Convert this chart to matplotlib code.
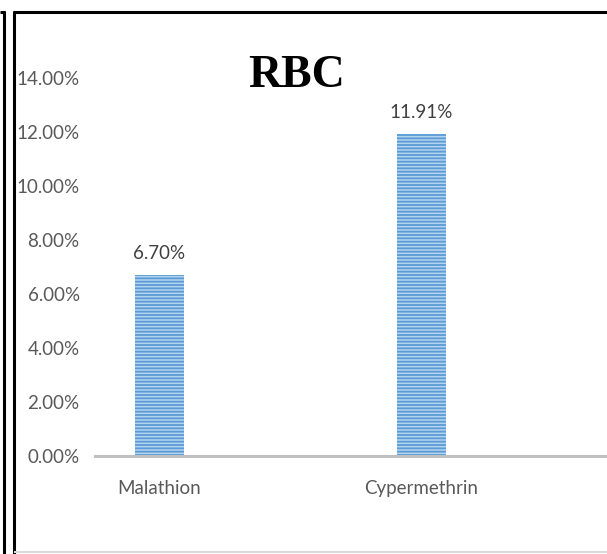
import matplotlib
matplotlib.use("Agg")
import matplotlib.pyplot as plt
from matplotlib.lines import Line2D
from matplotlib.ticker import FuncFormatter

categories = ["Malathion", "Cypermethrin"]
values = [0.0670, 0.1191]
value_labels = ["6.70%", "11.91%"]
title = "RBC"

W, H = 607, 554
fig = plt.figure(figsize=(W / 100, H / 100), dpi=100)
fig.patch.set_facecolor("white")

ax_left, ax_right = 95 / W, 607 / W
ax_bottom = (H - 456) / H
ax_top = (H - 78) / H
ax = fig.add_axes([ax_left, ax_bottom, ax_right - ax_left, ax_top - ax_bottom])

plt.rcParams["hatch.linewidth"] = 1.3
x = list(range(len(categories)))
bars = ax.bar(x, values, width=0.187, color="#B4D3EF", edgecolor="#5B9BD5",
              hatch="-----", linewidth=0)

ax.set_ylim(0, 0.14)
ax.set_xlim(-0.246, 1.708)
ax.set_yticks([i * 0.02 for i in range(8)])
ax.yaxis.set_major_formatter(FuncFormatter(lambda v, p: f"{v*100:.2f}%"))
ax.set_xticks(x)
ax.set_xticklabels(categories)
ax.tick_params(axis="both", length=0, labelcolor="#595959", labelsize=13.5)
ax.tick_params(axis="y", pad=11)
ax.tick_params(axis="x", pad=17)
for lab in ax.get_xticklabels() + ax.get_yticklabels():
    lab.set_fontfamily("Lato")

for s in ["top", "right", "left"]:
    ax.spines[s].set_visible(False)
ax.spines["bottom"].set_color("#BFBFBF")
ax.spines["bottom"].set_linewidth(2.2)
ax.patch.set_alpha(0)

for xi, v, lab in zip(x, values, value_labels):
    ax.annotate(lab, (xi, v), xytext=(0, 9.5), textcoords="offset points",
                ha="center", va="bottom", color="#404040", fontsize=13.5,
                family="Lato")

fig.text(297 / W, 1 - 87 / H, title, ha="center", va="baseline",
         fontsize=33, fontweight="bold", family="Liberation Serif", color="black")

def fl(x0, y0, x1, y1, color="black", lw=2.2):
    fig.add_artist(Line2D([x0 / W, x1 / W], [1 - y0 / H, 1 - y1 / H],
                          transform=fig.transFigure, color=color, linewidth=lw,
                          solid_capstyle="butt"))

fl(0, 12, 5, 12)
fl(4, 11, 4, 554)
fl(14, 11, 14, 554)
fl(13, 12, 607, 12)
fl(14, 552, 607, 552, color="#D9D9D9", lw=1.5)

fig.savefig("out.png", dpi=100)
